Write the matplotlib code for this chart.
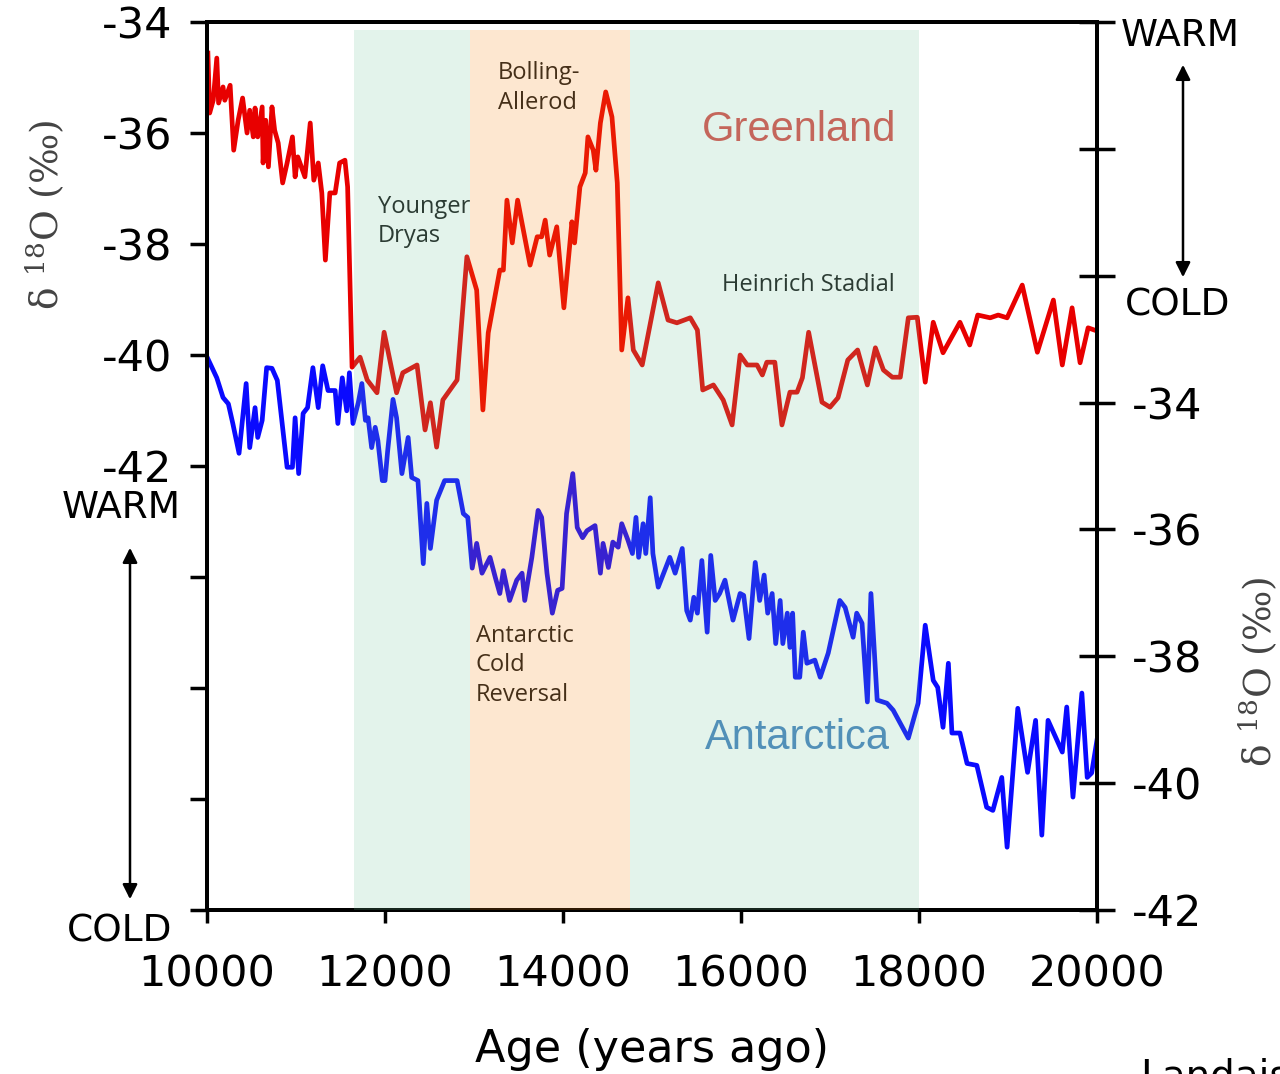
import numpy as np
import matplotlib
matplotlib.use("Agg")
import matplotlib.pyplot as plt

plt.rcParams['axes.unicode_minus'] = False
plt.rcParams['font.family'] = ['DejaVu Sans']
plt.rcParams['mathtext.fontset'] = 'dejavuserif'

# Greenland d18O (left axis), age in years ago
greenland_age = [10010, 10030, 10070, 10110, 10130, 10180, 10200, 10260, 10300, 10350,
                 10400, 10450, 10480, 10520, 10540, 10570, 10620, 10630, 10660, 10690,
                 10730, 10760, 10800, 10850, 10900, 10960, 10990, 11020, 11100, 11160,
                 11200, 11250, 11290, 11330, 11380, 11440, 11490, 11550, 11580, 11630,
                 11720, 11800, 11910, 11990, 12130, 12200, 12360, 12450, 12510, 12580,
                 12650, 12810, 12920, 13030, 13100, 13160, 13290, 13330, 13370, 13430,
                 13490, 13630, 13710, 13760, 13800, 13850, 13930, 14010, 14100, 14130,
                 14190, 14250, 14280, 14340, 14370, 14420, 14480, 14550, 14610, 14660,
                 14730, 14790, 14890, 15070, 15180, 15280, 15430, 15510, 15570, 15690,
                 15800, 15900, 15990, 16070, 16180, 16240, 16290, 16380, 16460, 16550,
                 16630, 16690, 16760, 16910, 17000, 17090, 17200, 17310, 17420, 17510,
                 17600, 17700, 17790, 17880, 17980, 18070, 18160, 18270, 18460, 18570,
                 18660, 18800, 18890, 18990, 19160, 19330, 19510, 19610, 19720, 19810,
                 19900, 19970]
greenland_d18o = [-34.56, -35.64, -35.41, -34.65, -35.46, -35.17, -35.41, -35.14, -36.31, -35.77,
                  -35.37, -36.00, -35.59, -36.07, -35.55, -36.07, -35.53, -36.54, -35.77, -36.61,
                  -35.53, -35.95, -36.18, -36.90, -36.54, -36.07, -36.79, -36.43, -36.79, -35.82,
                  -36.85, -36.54, -37.08, -38.29, -37.08, -37.08, -36.54, -36.49, -36.97, -40.22,
                  -40.04, -40.45, -40.68, -39.59, -40.68, -40.32, -40.18, -41.35, -40.86, -41.66,
                  -40.81, -40.45, -38.23, -38.83, -40.99, -39.60, -38.47, -38.47, -37.21, -37.98,
                  -37.21, -38.38, -37.87, -37.87, -37.57, -38.20, -37.69, -39.15, -37.60, -37.98,
                  -36.97, -36.72, -36.07, -36.31, -36.67, -35.82, -35.26, -35.71, -36.90, -39.91,
                  -38.97, -39.91, -40.18, -38.70, -39.37, -39.42, -39.33, -39.55, -40.63, -40.54,
                  -40.81, -41.26, -40.00, -40.18, -40.18, -40.36, -40.13, -40.13, -41.26, -40.67,
                  -40.67, -40.41, -39.59, -40.85, -40.94, -40.77, -40.09, -39.91, -40.54, -39.87,
                  -40.27, -40.40, -40.40, -39.33, -39.32, -40.49, -39.41, -39.96, -39.41, -39.82,
                  -39.28, -39.33, -39.28, -39.33, -38.74, -39.95, -39.01, -40.18, -39.15, -40.14,
                  -39.51, -39.55]

# Antarctica d18O (right axis)
antarctica_age = [10010, 10110, 10180, 10240, 10290, 10360, 10440, 10480, 10540, 10570,
                  10620, 10670, 10730, 10790, 10900, 10960, 10990, 11030, 11080, 11130,
                  11190, 11250, 11300, 11360, 11440, 11470, 11520, 11570, 11600, 11640,
                  11700, 11740, 11780, 11810, 11850, 11890, 11920, 11970, 12000, 12030,
                  12090, 12130, 12190, 12260, 12300, 12370, 12430, 12470, 12510, 12580,
                  12670, 12810, 12880, 12930, 12980, 13030, 13090, 13180, 13240, 13290,
                  13330, 13400, 13480, 13540, 13570, 13650, 13720, 13760, 13820, 13880,
                  13940, 13990, 14040, 14110, 14160, 14220, 14270, 14360, 14420, 14450,
                  14510, 14560, 14620, 14660, 14730, 14780, 14820, 14850, 14900, 14930,
                  14980, 15010, 15070, 15200, 15260, 15340, 15390, 15430, 15470, 15510,
                  15560, 15620, 15660, 15710, 15760, 15820, 15910, 15990, 16030, 16090,
                  16160, 16210, 16260, 16300, 16350, 16390, 16440, 16470, 16520, 16550,
                  16580, 16610, 16660, 16700, 16740, 16830, 16890, 16980, 17110, 17170,
                  17260, 17300, 17360, 17420, 17460, 17530, 17640, 17710, 17880, 17990,
                  18070, 18160, 18210, 18270, 18330, 18370, 18460, 18540, 18650, 18760,
                  18830, 18930, 18990, 19110, 19220, 19310, 19380, 19450, 19610, 19660,
                  19730, 19830, 19890, 19940, 20000]
antarctica_d18o = [-33.31, -33.61, -33.92, -34.02, -34.33, -34.80, -33.70, -34.71, -34.08, -34.55,
                   -34.28, -33.45, -33.46, -33.65, -35.02, -35.02, -34.24, -35.12, -34.17, -34.08,
                   -33.45, -34.08, -33.42, -33.81, -33.81, -34.33, -33.61, -34.13, -33.53, -34.33,
                   -34.00, -33.70, -34.28, -34.24, -34.71, -34.39, -34.60, -35.23, -35.23, -34.76,
                   -33.95, -34.24, -35.12, -34.55, -35.18, -35.23, -36.54, -35.59, -36.30, -35.54,
                   -35.23, -35.23, -35.75, -35.81, -36.61, -36.22, -36.69, -36.44, -36.76, -37.01,
                   -36.65, -37.12, -36.80, -36.69, -37.12, -36.44, -35.70, -35.81, -36.69, -37.32,
                   -36.96, -36.93, -35.75, -35.12, -35.97, -36.13, -36.02, -35.94, -36.69, -36.22,
                   -36.60, -36.20, -36.28, -35.91, -36.17, -36.38, -35.81, -36.44, -35.91, -36.38,
                   -35.50, -36.38, -36.91, -36.44, -36.69, -36.30, -37.28, -37.43, -37.07, -37.32,
                   -36.49, -37.62, -36.41, -37.12, -37.01, -36.80, -37.43, -37.01, -37.04, -37.72,
                   -36.52, -37.12, -36.72, -37.32, -37.01, -37.80, -37.12, -37.80, -37.32, -37.86,
                   -37.32, -38.33, -38.33, -37.62, -38.11, -38.06, -38.33, -37.95, -37.12, -37.23,
                   -37.70, -37.32, -37.48, -38.72, -37.01, -38.69, -38.74, -38.85, -39.29, -38.74,
                   -37.51, -38.38, -38.49, -39.12, -38.11, -39.21, -39.21, -39.69, -39.72, -40.38,
                   -40.43, -39.91, -41.01, -38.82, -39.83, -39.01, -40.82, -39.01, -39.51, -38.80,
                   -40.22, -38.58, -39.91, -39.84, -39.32]

# shaded periods: Younger Dryas + Heinrich Stadial (green), Bolling-Allerod (orange)
green_periods = [(11650, 12950), (14750, 18000)]
orange_period = (12950, 14750)

left_ticks = [-34, -36, -38, -40, -42, -44, -46, -48, -50]
left_labels = ['-34', '-36', '-38', '-40', '-42', '', '', '', '']
right_ticks = [-42, -40, -38, -36, -34, -32, -30, -28]
right_labels = ['-42', '-40', '-38', '-36', '-34', '', '', '']
x_ticks = [10000, 12000, 14000, 16000, 18000, 20000]

W, H = 1280, 1074
fig = plt.figure(figsize=(12.8, 10.74), dpi=100)
ax = fig.add_axes([207 / W, 1 - 910 / H, 890 / W, 888 / H])
ax2 = ax.twinx()

ax.plot(greenland_age, greenland_d18o, color='#e80000', lw=3.4)
ax2.plot(antarctica_age, antarctica_d18o, color='#0a0aff', lw=3.4)

# shading drawn over the curves, semi transparent
for g in green_periods:
    ax2.axvspan(*g, ymin=0, ymax=0.991, color='#73c39b', alpha=0.2, lw=0, zorder=5)
ax2.axvspan(*orange_period, ymin=0, ymax=0.991, color='#f58714', alpha=0.2, lw=0, zorder=5)

ax.set_xlim(10000, 20000)
ax.set_ylim(-50, -34)
ax2.set_ylim(-42, -28)

ax.set_xticks(x_ticks)
ax.set_xticklabels([str(t) for t in x_ticks], fontsize=31)
ax.set_yticks(left_ticks)
ax.set_yticklabels(left_labels, fontsize=31)
ax2.set_yticks(right_ticks)
ax2.set_yticklabels(right_labels, fontsize=31)

ax.tick_params(axis='x', direction='out', length=9, width=2.5, pad=22)
ax.tick_params(axis='y', direction='out', length=12, width=2.5, pad=13)
ax2.tick_params(axis='y', direction='inout', length=26, width=2.5, pad=12)
for a in (ax, ax2):
    for sp in a.spines.values():
        sp.set_linewidth(2.8)

ax.set_xlabel('Age (years ago)', fontsize=32, labelpad=24)

# region labels
note = dict(fontsize=17, color='#1a1a1a', family='Open Sans', zorder=10, linespacing=1.3,
            ha='left', va='center')
ax.text(11920, -37.59, 'Younger\nDryas', **note)
ax.text(13270, -35.19, 'Bolling-\nAllerod', **note)
ax.text(15790, -38.74, 'Heinrich Stadial', **note)
ax.text(13020, -45.59, 'Antarctic\nCold\nReversal', **note)

ax.text(15560, -35.95, 'Greenland', fontsize=30, color='#d9504c', family='Liberation Sans',
        va='center', ha='left', zorder=10)
ax.text(15600, -46.90, 'Antarctica', fontsize=30, color='#4a84c0', family='Liberation Sans',
        va='center', ha='left', zorder=10)

# warm / cold markers
def fx(px):
    return px / W

def fy(py):
    return 1 - py / H

fig.text(fx(121), fy(508), 'WARM', fontsize=27, ha='center', va='center')
fig.text(fx(120), fy(932), 'COLD', fontsize=27, ha='center', va='center')
fig.text(fx(1180), fy(36), 'WARM', fontsize=27, ha='center', va='center')
fig.text(fx(1178), fy(305), 'COLD', fontsize=27, ha='center', va='center')

arrow = dict(arrowstyle='<|-|>', color='black', lw=1.8, mutation_scale=22)
fig.add_artist(matplotlib.patches.FancyArrowPatch((fx(130), fy(545)), (fx(130), fy(902)),
                                                  transform=fig.transFigure, **arrow))
fig.add_artist(matplotlib.patches.FancyArrowPatch((fx(1183), fy(62)), (fx(1183), fy(280)),
                                                  transform=fig.transFigure, **arrow))

ylab = 'δ $^{18}$O (‰)'
fig.text(fx(45), fy(215), ylab, rotation=90, fontsize=27, color='#444444',
         family='DejaVu Serif', ha='center', va='center')
fig.text(fx(1258), fy(672), ylab, rotation=90, fontsize=27, color='#444444',
         family='DejaVu Serif', ha='center', va='center')

fig.text(fx(1140), fy(1058), 'Landais', fontsize=28, ha='left', va='top')

fig.savefig('out.png', dpi=100)
